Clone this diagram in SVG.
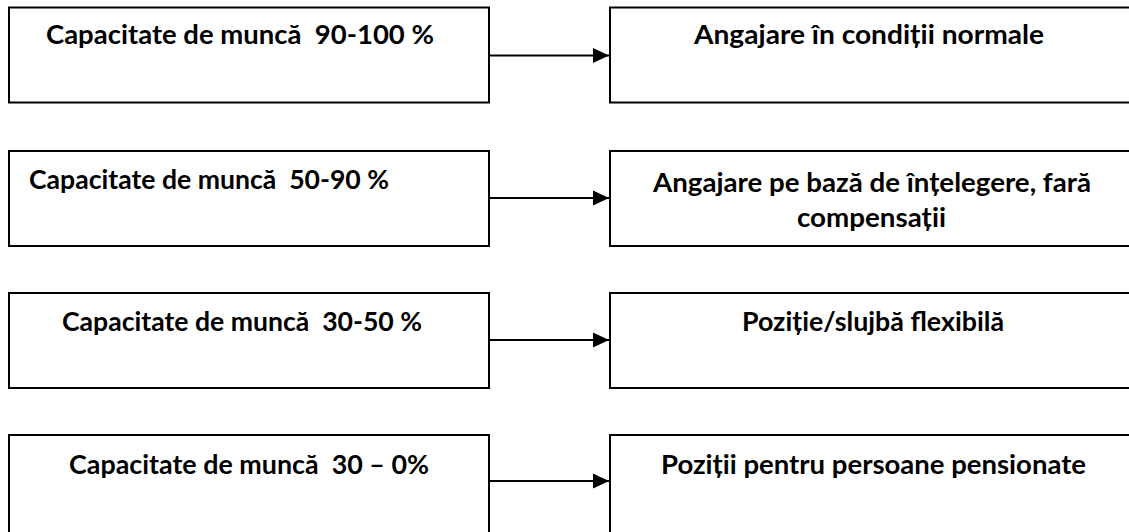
<svg xmlns="http://www.w3.org/2000/svg" width="1129" height="532" viewBox="0 0 1129 532">
<style>
.box{fill:#fff;stroke:#000;stroke-width:2}
.t{font-family:Lato,"Liberation Sans",Arial,sans-serif;font-weight:bold;font-size:26px;fill:#000}
.c{stroke:#000;stroke-width:2;fill:none}
</style>
<defs>
<marker id="ah" markerUnits="userSpaceOnUse" markerWidth="17" markerHeight="16" refX="16" refY="8" orient="auto">
<path d="M0,0.5 L16,8 L0,15.5 Z" fill="#000"/>
</marker>
</defs>
<rect width="1129" height="532" fill="#fff"/>
<g id="n1">
<rect class="box" x="9" y="7.5" width="480" height="95"/>
<text class="t" x="46" y="44" xml:space="preserve" textLength="388" lengthAdjust="spacingAndGlyphs">Capacitate de muncă  90-100 %</text>
</g>
<g id="n2">
<rect class="box" x="610" y="7.5" width="530" height="95"/>
<text class="t" x="694" y="44" textLength="350" lengthAdjust="spacingAndGlyphs">Angajare în condiții normale</text>
</g>
<g id="n3">
<rect class="box" x="9" y="151" width="480" height="95"/>
<text class="t" x="29" y="189" xml:space="preserve" textLength="360" lengthAdjust="spacingAndGlyphs">Capacitate de muncă  50-90 %</text>
</g>
<g id="n4">
<rect class="box" x="610" y="151" width="530" height="95"/>
<text class="t" x="653" y="192" textLength="438" lengthAdjust="spacingAndGlyphs">Angajare pe bază de înțelegere, fară</text>
<text class="t" x="797" y="227" textLength="149" lengthAdjust="spacingAndGlyphs">compensații</text>
</g>
<g id="n5">
<rect class="box" x="9" y="293" width="480" height="95"/>
<text class="t" x="62" y="331" xml:space="preserve" textLength="360" lengthAdjust="spacingAndGlyphs">Capacitate de muncă  30-50 %</text>
</g>
<g id="n6">
<rect class="box" x="610" y="293" width="530" height="95"/>
<text class="t" x="742" y="331" textLength="262" lengthAdjust="spacingAndGlyphs">Poziție/slujbă flexibilă</text>
</g>
<g id="n7">
<rect class="box" x="9" y="435" width="480" height="110"/>
<text class="t" x="69" y="474" xml:space="preserve" textLength="360" lengthAdjust="spacingAndGlyphs">Capacitate de muncă  30 – 0%</text>
</g>
<g id="n8">
<rect class="box" x="610" y="435" width="530" height="110"/>
<text class="t" x="661" y="474" textLength="425" lengthAdjust="spacingAndGlyphs">Poziții pentru persoane pensionate</text>
</g>
<g id="connectors">
<line class="c" x1="489" y1="55.5" x2="609" y2="55.5" marker-end="url(#ah)"/>
<line class="c" x1="489" y1="198" x2="609" y2="198" marker-end="url(#ah)"/>
<line class="c" x1="489" y1="340" x2="609" y2="340" marker-end="url(#ah)"/>
<line class="c" x1="489" y1="481" x2="609" y2="481" marker-end="url(#ah)"/>
</g>
</svg>
